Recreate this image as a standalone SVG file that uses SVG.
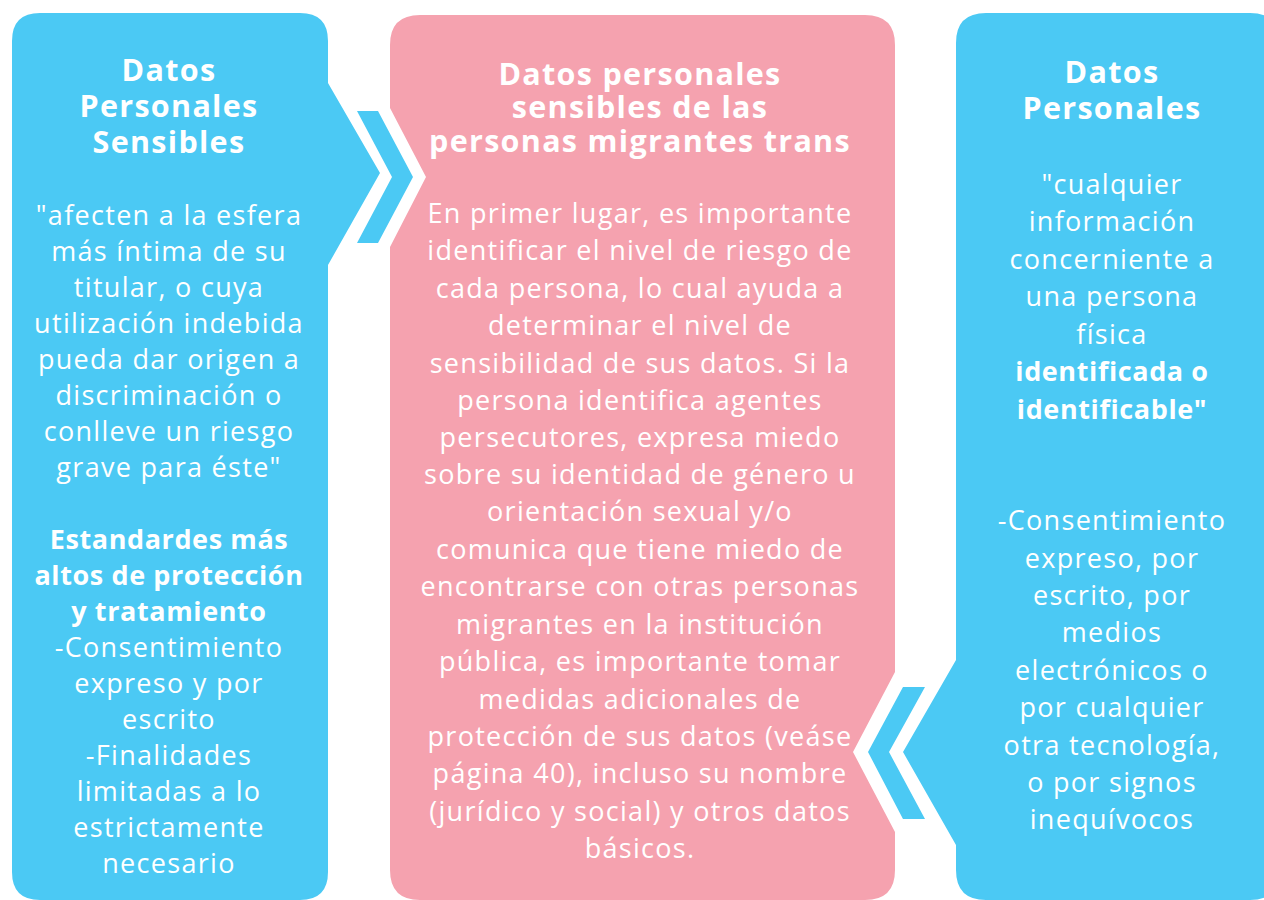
<svg xmlns="http://www.w3.org/2000/svg" width="1264" height="900" viewBox="0 0 1264 900">
<style>
.blue{fill:#4BC9F4}
.pink{fill:#F5A2AF}
text{font-family:"Open Sans","Liberation Sans",sans-serif;fill:#fff;text-anchor:middle}
.t{font-size:30.5px;font-weight:700;letter-spacing:1.3px}
.b{font-size:27px;letter-spacing:1.3px}
.bb{font-size:27px;font-weight:700;letter-spacing:0.6px}
</style>
<rect width="1264" height="900" fill="#fff"/>
<g id="node-left">
<path class="blue" d="M40,13 H300 Q328,13 328,41 V83 L380,173 L328,265 V872 Q328,900 300,900 H40 Q12,900 12,872 V41 Q12,13 40,13 Z"/>
<text class="t"><tspan x="169" y="81">Datos</tspan><tspan x="169" y="117">Personales</tspan><tspan x="169" y="153">Sensibles</tspan></text>
<text class="b"><tspan x="169" y="225">"afecten a la esfera</tspan><tspan x="169" y="261">más íntima de su</tspan><tspan x="169" y="297">titular, o cuya</tspan><tspan x="169" y="333">utilización indebida</tspan><tspan x="169" y="369">pueda dar origen a</tspan><tspan x="169" y="405">discriminación o</tspan><tspan x="169" y="441">conlleve un riesgo</tspan><tspan x="169" y="477">grave para éste"</tspan></text>
<text class="bb"><tspan x="169" y="549">Estandardes más</tspan><tspan x="169" y="585">altos de protección</tspan><tspan x="169" y="621">y tratamiento</tspan></text>
<text class="b"><tspan x="169" y="657">-Consentimiento</tspan><tspan x="169" y="693">expreso y por</tspan><tspan x="169" y="729">escrito</tspan><tspan x="169" y="765">-Finalidades</tspan><tspan x="169" y="801">limitadas a lo</tspan><tspan x="169" y="837">estrictamente</tspan><tspan x="169" y="873">necesario</tspan></text>
</g>
<g id="node-center">
<path class="pink" d="M420,15 H865 Q895,15 895,45 V672 L853,752 L895,832 V870 Q895,900 865,900 H420 Q390,900 390,870 V247 L426,177 L390,108 V45 Q390,15 420,15 Z"/>
<text class="t"><tspan x="640" y="85">Datos personales</tspan><tspan x="640" y="118">sensibles de las</tspan><tspan x="640" y="152">personas migrantes trans</tspan></text>
<text class="b"><tspan x="640" y="223">En primer lugar, es importante</tspan><tspan x="640" y="260">identificar el nivel de riesgo de</tspan><tspan x="640" y="298">cada persona, lo cual ayuda a</tspan><tspan x="640" y="335">determinar el nivel de</tspan><tspan x="640" y="373">sensibilidad de sus datos. Si la</tspan><tspan x="640" y="410">persona identifica agentes</tspan><tspan x="640" y="447">persecutores, expresa miedo</tspan><tspan x="640" y="484">sobre su identidad de género u</tspan><tspan x="640" y="521">orientación sexual y/o</tspan><tspan x="640" y="559">comunica que tiene miedo de</tspan><tspan x="640" y="596">encontrarse con otras personas</tspan><tspan x="640" y="634">migrantes en la institución</tspan><tspan x="640" y="671">pública, es importante tomar</tspan><tspan x="640" y="709">medidas adicionales de</tspan><tspan x="640" y="746">protección de sus datos (veáse</tspan><tspan x="640" y="783">página 40), incluso su nombre</tspan><tspan x="640" y="821">(jurídico y social) y otros datos</tspan><tspan x="640" y="858">básicos.</tspan></text>
</g>
<g id="node-right">
<path class="blue" d="M986,13 H1250 Q1280,13 1280,43 V870 Q1280,900 1250,900 H986 Q956,900 956,870 V845 L903,752 L956,660 V43 Q956,13 986,13 Z"/>
<text class="t"><tspan x="1112" y="83">Datos</tspan><tspan x="1112" y="119">Personales</tspan></text>
<text class="b"><tspan x="1112" y="194">"cualquier</tspan><tspan x="1112" y="231">información</tspan><tspan x="1112" y="269">concerniente a</tspan><tspan x="1112" y="306">una persona</tspan><tspan x="1112" y="344">física</tspan></text>
<text class="bb"><tspan x="1112" y="381">identificada o</tspan><tspan x="1112" y="419">identificable"</tspan></text>
<text class="b"><tspan x="1112" y="530">-Consentimiento</tspan><tspan x="1112" y="568">expreso, por</tspan><tspan x="1112" y="605">escrito, por</tspan><tspan x="1112" y="642">medios</tspan><tspan x="1112" y="680">electrónicos o</tspan><tspan x="1112" y="717">por cualquier</tspan><tspan x="1112" y="755">otra tecnología,</tspan><tspan x="1112" y="792">o por signos</tspan><tspan x="1112" y="829">inequívocos</tspan></text>
</g>
<g id="connectors">
<polygon class="blue" points="357,111 378,111 413,177 378,243 357,243 392,177"/>
<polygon class="blue" points="903,687 925,687 889,752 925,819 903,819 868,752"/>
</g>
</svg>
